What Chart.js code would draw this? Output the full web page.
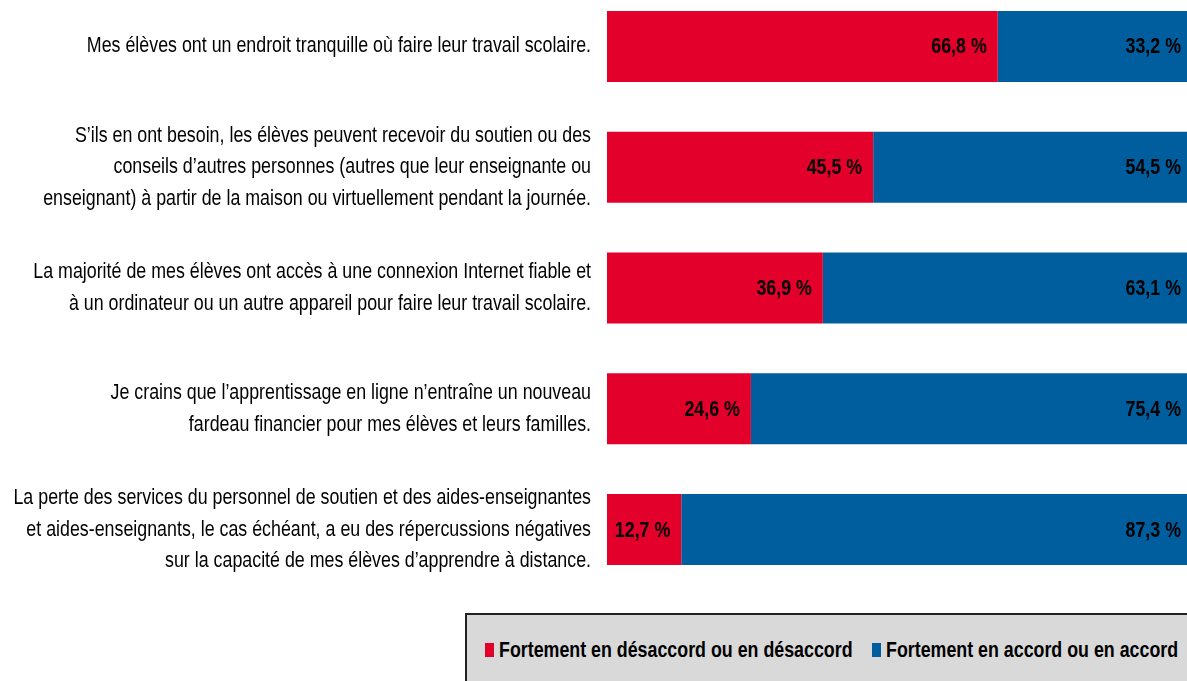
<!DOCTYPE html>
<html lang="fr">
<head>
    <meta charset="UTF-8">
    <meta name="viewport" content="width=device-width, initial-scale=1.0">
    <script src="https://cdn.jsdelivr.net/npm/chart.js"></script>
    <title>Conditions d'apprentissage à distance</title>

    <style>
        html, body {
            margin: 0;
            padding: 0;
            width: 1187px;
            height: 681px;
            overflow: hidden;
            background: #fff;
            position: relative;
        }
        #wrap {
            position: absolute;
            left: 0;
            top: -14px;
            width: 1192px;
            height: 604px;
        }
        #legend {
            position: absolute;
            left: 465px;
            top: 613px;
            width: 760px;
            height: 90px;
            box-sizing: border-box;
            background: #d9d9d9;
            border: 2px solid #222;
            font-family: 'Liberation Sans', Arial, sans-serif;
            font-weight: bold;
            font-size: 22px;
            color: #000;
        }
        #legend .sw {
            position: absolute;
            top: 28px;
            width: 9px;
            height: 14px;
        }
        #legend .txt {
            position: absolute;
            top: 22px;
            line-height: 26px;
            white-space: nowrap;
            transform: scaleX(0.81);
            transform-origin: left center;
        }
    </style>
</head>
<body>
    <div id="wrap"><canvas id="chart"></canvas></div>
    <div id="legend"></div>

    <script>
        const categories = [
            ['Mes élèves ont un endroit tranquille où faire leur travail scolaire.'],
            ['S\u2019ils en ont besoin, les élèves peuvent recevoir du soutien ou des',
             'conseils d\u2019autres personnes (autres que leur enseignante ou',
             'enseignant) à partir de la maison ou virtuellement pendant la journée.'],
            ['La majorité de mes élèves ont accès à une connexion Internet fiable et',
             'à un ordinateur ou un autre appareil pour faire leur travail scolaire.'],
            ['Je crains que l\u2019apprentissage en ligne n\u2019entraîne un nouveau',
             'fardeau financier pour mes élèves et leurs familles.'],
            ['La perte des services du personnel de soutien et des aides-enseignantes',
             'et aides-enseignants, le cas échéant, a eu des répercussions négatives',
             'sur la capacité de mes élèves d\u2019apprendre à distance.']
        ];
        const seriesNames = [
            'Fortement en désaccord ou en désaccord',
            'Fortement en accord ou en accord'
        ];
        const desaccord = [66.8, 45.5, 36.9, 24.6, 12.7];
        const accord = [33.2, 54.5, 63.1, 75.4, 87.3];

        const colors = ['#E3002B', '#005E9E'];
        const family = "'Liberation Sans', Arial, sans-serif";
        const narrowX = 0.81; // imite Arial Narrow

        function narrowText(ctx, txt, x, y) {
            ctx.save();
            ctx.translate(x, y);
            ctx.scale(narrowX, 1);
            ctx.fillText(txt, 0, 0);
            ctx.restore();
        }

        // libellés des catégories (texte étroit sur plusieurs lignes)
        const categoryLabels = {
            id: 'categoryLabels',
            afterDraw(chart) {
                const ctx = chart.ctx;
                const y = chart.scales.y;
                ctx.save();
                ctx.font = '22px ' + family;
                ctx.fillStyle = '#000';
                ctx.textAlign = 'right';
                ctx.textBaseline = 'middle';
                chart.data.labels.forEach((lines, i) => {
                    const yc = y.getPixelForValue(i);
                    const lh = 31.5;
                    lines.forEach((line, k) => {
                        narrowText(ctx, line, y.right - 16, yc + (k - (lines.length - 1) / 2) * lh);
                    });
                });
                ctx.restore();
            }
        };

        // étiquettes de valeur alignées à droite dans chaque segment
        const valueLabels = {
            id: 'valueLabels',
            afterDatasetsDraw(chart) {
                const ctx = chart.ctx;
                ctx.save();
                ctx.font = 'bold 22px ' + family;
                ctx.fillStyle = '#000';
                ctx.textAlign = 'right';
                ctx.textBaseline = 'middle';
                chart.data.datasets.forEach((ds, i) => {
                    chart.getDatasetMeta(i).data.forEach((bar, j) => {
                        const txt = ds.data[j].toFixed(1).replace('.', ',') + ' %';
                        narrowText(ctx, txt, bar.x - 11, bar.y + 1);
                    });
                });
                ctx.restore();
            }
        };

        const chart = new Chart(document.getElementById('chart'), {
            type: 'bar',
            data: {
                labels: categories,
                datasets: [
                    { label: seriesNames[0], data: desaccord, backgroundColor: colors[0] },
                    { label: seriesNames[1], data: accord, backgroundColor: colors[1] }
                ]
            },
            options: {
                indexAxis: 'y',
                responsive: true,
                maintainAspectRatio: false,
                animation: false,
                barPercentage: 0.588,
                categoryPercentage: 1,
                layout: { padding: 0 },
                plugins: {
                    legend: { display: false },
                    tooltip: { enabled: false }
                },
                scales: {
                    x: {
                        stacked: true,
                        min: 0,
                        max: 100,
                        display: false
                    },
                    y: {
                        stacked: true,
                        grid: { display: false },
                        border: { display: false },
                        ticks: { display: false },
                        afterFit(scale) { scale.width = 607; }
                    }
                }
            },
            plugins: [valueLabels, categoryLabels]
        });

        // légende dans un cadre gris
        const legend = document.getElementById('legend');
        const swatchLeft = [18, 405];
        chart.data.datasets.forEach((ds, i) => {
            const sw = document.createElement('span');
            sw.className = 'sw';
            sw.style.left = swatchLeft[i] + 'px';
            sw.style.background = ds.backgroundColor;
            const txt = document.createElement('span');
            txt.className = 'txt';
            txt.style.left = (swatchLeft[i] + 14) + 'px';
            txt.textContent = ds.label;
            legend.appendChild(sw);
            legend.appendChild(txt);
        });
    </script>
</body>
</html>
